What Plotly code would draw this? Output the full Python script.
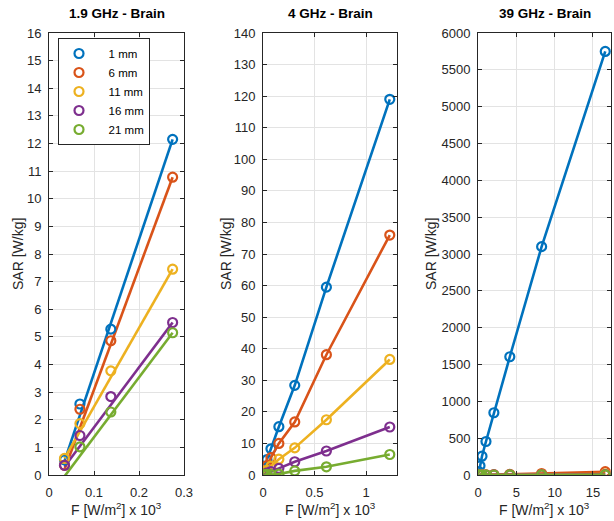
import plotly.graph_objects as go

W, H = 614, 521
labels = ["1 mm", "6 mm", "11 mm", "16 mm", "21 mm"]
colors = ["#0072BD", "#D95319", "#EDB120", "#7E2F8E", "#77AC30"]

# Panel 1: 1.9 GHz
x1 = [0.0344, 0.0687, 0.1374, 0.2747]
y1 = {
    "1 mm": [0.55, 2.57, 5.28, 12.15],
    "6 mm": [0.35, 2.38, 4.86, 10.78],
    "11 mm": [0.6, 1.86, 3.77, 7.45],
    "16 mm": [0.35, 1.43, 2.84, 5.52],
    "21 mm": [None, 1.02, 2.28, 5.15],
}
# fitted line end values (at first and last x)
fit1 = {
    "1 mm": [0.5, 12.15],
    "6 mm": [0.2, 10.78],
    "11 mm": [0.6, 7.45],
    "16 mm": [0.3, 5.52],
    "21 mm": [-0.05, 5.15],
}

# Panel 2: 4 GHz
x2 = [0.0096, 0.019, 0.038, 0.077, 0.154, 0.308, 0.615, 1.23]
y2 = {
    "1 mm": [1.0, 2.2, 4.9, 8.3, 15.3, 28.4, 59.5, 119],
    "6 mm": [0.6, 1.3, 3.0, 5.5, 10.0, 16.8, 38.1, 76],
    "11 mm": [0.3, 0.6, 1.5, 2.8, 5.0, 8.6, 17.5, 36.6],
    "16 mm": [0.15, 0.3, 0.6, 1.1, 2.1, 4.2, 7.6, 15.2],
    "21 mm": [0.05, 0.1, 0.2, 0.1, 0.3, 1.3, 2.6, 6.5],
}

# Panel 3: 39 GHz
x3 = [0.13, 0.26, 0.52, 1.04, 2.07, 4.15, 8.3, 16.6]
y3 = {
    "1 mm": [45, 125, 255, 455, 845, 1605, 3100, 5750],
    "6 mm": [0.3, 0.6, 1.2, 2.5, 5, 10, 20, 45],
    "11 mm": [0.1, 0.2, 0.4, 0.8, 1.6, 3.2, 6.5, 13],
    "16 mm": [0.04, 0.08, 0.16, 0.3, 0.6, 1.2, 2.5, 5],
    "21 mm": [0.02, 0.04, 0.08, 0.15, 0.3, 0.6, 1.2, 2.2],
}

titles = ["1.9 GHz - Brain", "4 GHz - Brain", "39 GHz - Brain"]
xranges = [[0, 0.3], [0, 1.3], [0, 17.35]]
yranges = [[0, 16], [0, 140], [0, 6000]]
xdtick = [0.1, 0.5, 5]
ydtick = [1, 10, 500]
xpix = [(49, 184), (263, 397), (478, 611)]
ytop, ybot = 33, 475
ytitle_x = [18, 226, 431]

fig = go.Figure()
font = "Liberation Sans, Arial, sans-serif"
tc = "#262626"
NB = "\u00a0"

for i in range(3):
    ax = "" if i == 0 else str(i + 1)
    xa, ya = "x" + ax, "y" + ax
    if i == 0:
        for lab, c in zip(labels, colors):
            fig.add_trace(go.Scatter(x=[x1[0], x1[-1]], y=fit1[lab], mode="lines",
                                     line=dict(color=c, width=2.6), showlegend=False,
                                     xaxis=xa, yaxis=ya))
        for lab, c in zip(labels, colors):
            fig.add_trace(go.Scatter(x=x1, y=y1[lab], mode="markers",
                                     name=NB * 3 + lab,
                                     marker=dict(symbol="circle-open", size=9, color=c,
                                                 line=dict(width=2.2, color=c)),
                                     xaxis=xa, yaxis=ya))
    else:
        xs = x2 if i == 1 else x3
        ys = y2 if i == 1 else y3
        for lab, c in zip(labels, colors):
            fig.add_trace(go.Scatter(x=xs, y=ys[lab], mode="lines+markers", name=lab,
                                     line=dict(color=c, width=2.6),
                                     marker=dict(symbol="circle-open", size=9, color=c,
                                                 line=dict(width=2.2, color=c)),
                                     showlegend=False, xaxis=xa, yaxis=ya))
    l, r = xpix[i]
    common = dict(showline=True, mirror="ticks", linecolor=tc, linewidth=1,
                  ticks="inside", ticklen=4, tickcolor=tc, automargin=False,
                  showgrid=True, gridcolor="#e3e3e3", gridwidth=1,
                  zeroline=False, tickfont=dict(family=font, size=13, color=tc))
    fig.update_layout(**{
        "xaxis" + ax: dict(domain=[l / W, r / W], range=xranges[i], dtick=xdtick[i],
                           tick0=0, anchor=ya, ticklabelstandoff=5, **common),
        "yaxis" + ax: dict(domain=[(H - ybot) / H, (H - ytop) / H], range=yranges[i],
                           dtick=ydtick[i], tick0=0, anchor=xa, ticklabelstandoff=4,
                           **common),
    })
    cx = (l + r) / 2
    fig.add_annotation(x=cx / W, y=1 - 14 / H, xref="paper", yref="paper",
                       text="<b>" + titles[i] + "</b>", showarrow=False,
                       font=dict(family=font, size=13.5, color="#000"),
                       xanchor="center", yanchor="middle")
    fig.add_annotation(x=cx / W, y=1 - 509 / H, xref="paper", yref="paper",
                       text="F [W/m<sup>2</sup>] x 10<sup>3</sup>", showarrow=False,
                       font=dict(family=font, size=14, color=tc),
                       xanchor="center", yanchor="middle")
    fig.add_annotation(x=ytitle_x[i] / W, y=1 - ((ytop + ybot) / 2) / H,
                       xref="paper", yref="paper", text="SAR [W/kg]", textangle=-90,
                       showarrow=False, font=dict(family=font, size=14, color=tc),
                       xanchor="center", yanchor="middle")

fig.update_layout(
    width=W, height=H, margin=dict(l=0, r=0, t=0, b=0, autoexpand=False),
    paper_bgcolor="white", plot_bgcolor="white",
    legend=dict(x=58 / W, y=1 - 38 / H, xanchor="left", yanchor="top",
                bordercolor="#262626", borderwidth=1, bgcolor="white",
                font=dict(family=font, size=11.5, color="#000"),
                tracegroupgap=0, itemwidth=30),
)

fig.write_html("out.html")
